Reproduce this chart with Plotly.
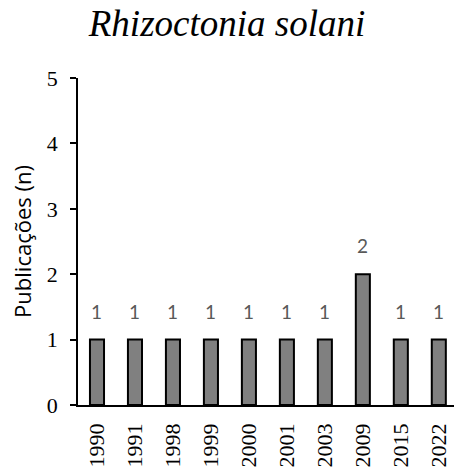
import plotly.graph_objects as go

years = ["1990", "1991", "1998", "1999", "2000", "2001", "2003", "2009", "2015", "2022"]
publications = [1, 1, 1, 1, 1, 1, 1, 2, 1, 1]
y_ticks = [0, 1, 2, 3, 4, 5]

serif = "Liberation Serif"
label_font = "Lato"
axis_title_font = "Open Sans"

fig = go.Figure(
    go.Bar(
        x=years,
        y=publications,
        width=0.37,
        marker=dict(color="#808080", line=dict(color="black", width=2)),
    )
)

# value labels floating above each bar (category axis: position by index)
for i, val in enumerate(publications):
    fig.add_annotation(
        x=i, y=val, text=str(val), showarrow=False,
        yanchor="bottom", yshift=15,
        font=dict(family=label_font, size=19, color="#595959"),
    )

fig.update_layout(
    width=454, height=469,
    margin=dict(l=78, r=0, t=78, b=64),
    paper_bgcolor="white", plot_bgcolor="white",
    showlegend=False,
    title=dict(
        text="<i>Rhizoctonia solani</i>",
        x=0.5, xanchor="center", y=0.95, yanchor="middle",
        font=dict(family=serif, size=37, color="black"),
    ),
    xaxis=dict(
        type="category",
        range=[-0.5, 9.4],
        showline=True, linecolor="black", linewidth=1.5,
        ticks="", tickangle=-90,
        tickfont=dict(family=serif, size=22, color="black"),
        ticklabelstandoff=8,
        showgrid=False, zeroline=False,
    ),
    yaxis=dict(
        range=[0, 5],
        tickvals=y_ticks,
        showline=True, linecolor="black", linewidth=1.5,
        ticks="outside", ticklen=6, tickwidth=1.5, tickcolor="black",
        tickfont=dict(family=serif, size=22, color="black"),
        ticklabelstandoff=8,
        showgrid=False, zeroline=False,
        title=dict(text="Publicações (n)", standoff=9,
                   font=dict(family=axis_title_font, size=22, color="black")),
    ),
)

fig.write_html("out.html")
